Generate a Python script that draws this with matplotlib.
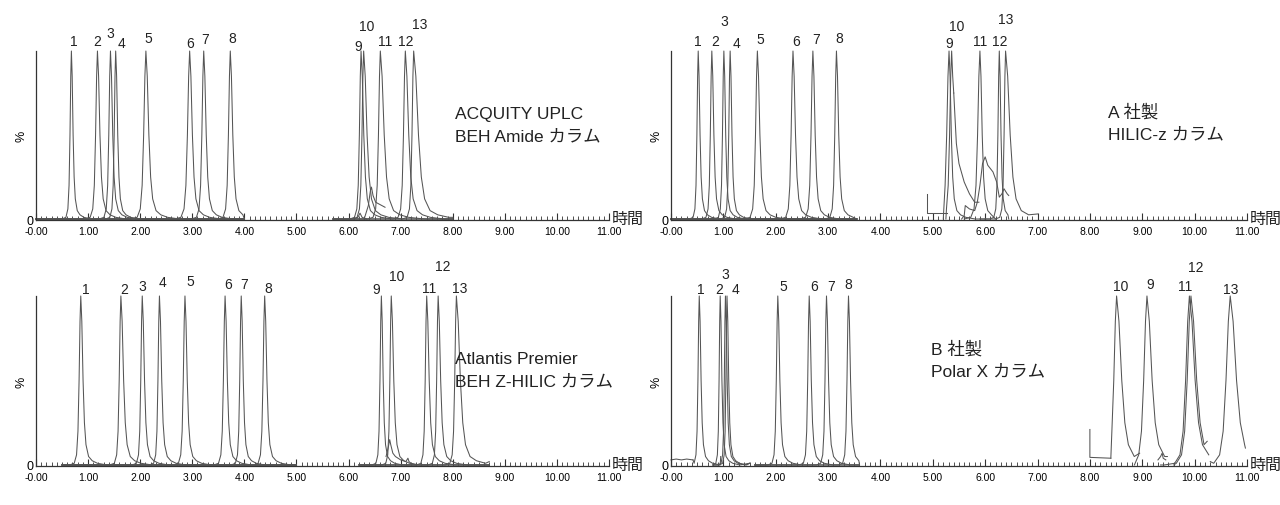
import matplotlib
matplotlib.use("Agg")
import matplotlib.pyplot as plt
from matplotlib.ticker import MultipleLocator, FixedLocator, FixedFormatter

plt.rcParams['font.family'] = ['Liberation Sans', 'Noto Sans CJK JP']

# --- data --------------------------------------------------------------
# generic peak profile (offset in min, relative height) taken from a typical peak
SHAPE_DX = [-0.12, -0.07, -0.045, -0.03, -0.018, -0.008, 0.0, 0.01, 0.022, 0.035, 0.05, 0.075, 0.11, 0.16, 0.25]
SHAPE_Y = [0.0, 0.01, 0.06, 0.2, 0.5, 0.85, 1.0, 0.85, 0.5, 0.25, 0.12, 0.05, 0.025, 0.01, 0.0]

# ACQUITY UPLC BEH Amide
rt_a = [0.68, 1.18, 1.43, 1.53, 2.11, 2.95, 3.22, 3.73, 6.24, 6.29, 6.61, 7.09, 7.25]
front_a = [1.5, 2.0, 1.8, 1.6, 2.4, 2.4, 2.0, 2.0, 1.8, 1.8, 2.0, 2.0, 1.8]
tail_a = [1.5, 2.2, 2.0, 1.8, 2.6, 2.4, 2.2, 2.2, 2.4, 3.0, 3.4, 3.0, 4.2]
lo_a = [0.0, 0.0, 0.0, 0.0, 0.0, 0.0, 0.0, 0.0, 5.7, 5.7, 5.7, 5.7, 5.7]
hi_a = [4.0, 4.0, 4.0, 4.0, 4.0, 4.0, 4.0, 4.0, 8.0, 8.0, 8.0, 8.0, 8.0]
start_a = [0.0] * 13
end_a = [0.0, 0.0, 0.0, 0.0, 0.0, 0.0, 0.0, 0.0, 0.0, 0.0, 0.0, 0.0, 0.01]
extra_x_a = [[6.30, 6.38, 6.42, 6.44, 6.47, 6.52, 6.58, 6.64, 6.70],
             [6.10, 6.18, 6.22, 6.26, 6.35]]
extra_y_a = [[0.0, 0.08, 0.17, 0.19, 0.14, 0.10, 0.09, 0.08, 0.07],
             [0.0, 0.01, 0.035, 0.01, 0.0]]

# A社製 HILIC-z
rt_b = [0.52, 0.78, 1.01, 1.13, 1.65, 2.33, 2.71, 3.16, 5.31, 5.36, 5.90, 6.27, 6.39]
front_b = [1.4, 1.6, 1.5, 1.5, 2.0, 2.0, 2.0, 1.8, 2.5, 2.2, 2.5, 1.5, 1.6]
tail_b = [1.6, 1.8, 1.6, 1.6, 2.2, 2.2, 2.0, 2.0, 2.0, 2.0, 2.0, 1.5, 4.0]
lo_b = [0.0, 0.0, 0.0, 0.0, 0.0, 0.0, 0.0, 0.0, 5.2, 5.25, 5.6, 5.9, 6.0]
hi_b = [3.55, 3.55, 3.55, 3.55, 3.55, 3.55, 3.55, 3.55, 6.0, 5.40, 6.2, 6.45, 7.0]
start_b = [0.0] * 13
end_b = [0.0, 0.0, 0.0, 0.0, 0.0, 0.0, 0.0, 0.0, 0.0, 0.75, 0.0, 0.0, 0.03]
extra_x_b = [[4.88, 4.88, 5.27],
             [5.40, 5.45, 5.50, 5.60, 5.70, 5.80, 5.88],
             [5.55, 5.60, 5.62, 5.70, 5.80, 5.85, 5.90, 5.95, 6.00, 6.05, 6.15, 6.22, 6.27, 6.32, 6.36, 6.42, 6.45]]
extra_y_b = [[0.15, 0.035, 0.035],
             [0.75, 0.45, 0.33, 0.22, 0.15, 0.10, 0.10],
             [0.0, 0.02, 0.08, 0.06, 0.05, 0.10, 0.20, 0.33, 0.37, 0.32, 0.28, 0.22, 0.13, 0.15, 0.18, 0.15, 0.14]]

# Atlantis Premier BEH Z-HILIC
rt_c = [0.86, 1.63, 2.04, 2.37, 2.86, 3.63, 3.94, 4.39, 6.63, 6.82, 7.50, 7.72, 8.07]
front_c = [1.8, 1.8, 1.6, 1.6, 1.8, 1.8, 1.6, 1.8, 1.5, 1.5, 1.6, 1.6, 1.8]
tail_c = [2.0, 2.4, 2.0, 2.0, 2.0, 2.0, 1.8, 2.0, 1.6, 2.2, 2.2, 2.2, 3.5]
lo_c = [0.5, 0.5, 0.5, 0.5, 0.5, 0.5, 0.5, 0.5, 6.2, 6.2, 6.2, 6.2, 6.2]
hi_c = [5.0, 5.0, 5.0, 5.0, 5.0, 5.0, 5.0, 5.0, 8.7, 8.7, 8.7, 8.7, 8.7]
start_c = [0.0] * 13
end_c = [0.0, 0.0, 0.0, 0.0, 0.0, 0.0, 0.0, 0.0, 0.0, 0.0, 0.0, 0.0, 0.02]
extra_x_c = [[6.72, 6.76, 6.79, 6.81, 6.85, 6.90, 7.00, 7.10, 7.14, 7.16, 7.20, 7.30]]
extra_y_c = [[0.05, 0.10, 0.15, 0.12, 0.07, 0.05, 0.03, 0.02, 0.04, 0.02, 0.01, 0.0]]

# B社製 Polar X
rt_d = [0.54, 0.94, 1.04, 1.07, 2.04, 2.64, 2.97, 3.39, 9.09, 8.51, 9.90, 9.93, 10.68]
front_d = [1.4, 1.2, 1.2, 1.2, 1.6, 1.6, 1.6, 1.6, 3.5, 3.0, 4.0, 4.0, 4.5]
tail_d = [1.6, 1.5, 1.5, 1.5, 1.8, 1.8, 1.8, 1.8, 4.5, 4.5, 5.0, 5.0, 5.5]
lo_d = [0.42, 0.8, 0.8, 0.8, 1.6, 1.6, 1.6, 1.6, 8.85, 8.40, 9.35, 9.6, 10.3]
hi_d = [0.95, 1.5, 1.5, 1.5, 3.6, 3.6, 3.6, 3.6, 9.48, 8.95, 10.27, 10.24, 10.97]
start_d = [0.03, 0.0, 0.0, 0.0, 0.0, 0.0, 0.0, 0.0, 0.0, 0.04, 0.0, 0.0, 0.02]
end_d = [0.05, 0.01, 0.01, 0.01, 0.0, 0.0, 0.0, 0.0, 0.05, 0.07, 0.06, 0.14, 0.10]
extra_x_d = [[8.0, 8.0, 8.40],
             [9.30, 9.35, 9.38, 9.40, 9.45],
             [0.0, 0.1, 0.2, 0.3, 0.42]]
extra_y_d = [[0.21, 0.045, 0.04],
             [0.03, 0.05, 0.07, 0.04, 0.03],
             [0.03, 0.035, 0.03, 0.035, 0.03]]

col_a = ["ACQUITY UPLC", "BEH Amide カラム"]
col_b = ["A 社製", "HILIC-z カラム"]
col_c = ["Atlantis Premier", "BEH Z-HILIC カラム"]
col_d = ["B 社製", "Polar X カラム"]

peak_names = [str(i) for i in range(1, 14)]
x_ticks = [0, 1, 2, 3, 4, 5, 6, 7, 8, 9, 10, 11]
x_tick_labels = ["-0.00", "1.00", "2.00", "3.00", "4.00", "5.00", "6.00",
                 "7.00", "8.00", "9.00", "10.00", "11.00"]

# label placement (offset from peak, height above axis top)
lab_dx_a = [0.05, 0.0, 0.0, 0.12, 0.04, 0.0, 0.03, 0.03, -0.06, 0.05, 0.1, 0.0, 0.12]
lab_y_a = [1.06, 1.06, 1.11, 1.05, 1.08, 1.05, 1.07, 1.08, 1.03, 1.15, 1.06, 1.06, 1.16]
lab_dx_b = [0.0, 0.06, 0.0, 0.13, 0.06, 0.06, 0.06, 0.05, 0.0, 0.1, 0.0, 0.0, 0.0]
lab_y_b = [1.06, 1.06, 1.18, 1.05, 1.07, 1.06, 1.07, 1.08, 1.05, 1.15, 1.06, 1.06, 1.19]
lab_dx_c = [0.09, 0.06, 0.0, 0.06, 0.1, 0.05, 0.06, 0.06, -0.1, 0.1, 0.04, 0.09, 0.06]
lab_y_c = [1.04, 1.04, 1.06, 1.08, 1.09, 1.07, 1.07, 1.05, 1.04, 1.12, 1.05, 1.18, 1.05]
lab_dx_d = [0.03, -0.02, 0.0, 0.16, 0.1, 0.09, 0.09, 0.0, 0.06, 0.07, -0.08, 0.1, 0.0]
lab_y_d = [1.04, 1.04, 1.13, 1.04, 1.06, 1.06, 1.06, 1.07, 1.07, 1.06, 1.06, 1.17, 1.04]

TRACE_COLOR = '#555555'


def peak_trace(rt, front, tail, lo, hi, start, end):
    """Vertices of one channel trace: baseline, peak profile, cut at the window."""
    xs = [lo]
    ys = [start]
    for dx, y in zip(SHAPE_DX, SHAPE_Y):
        x = rt + dx * (front if dx < 0 else tail)
        if lo < x < hi:
            xs.append(x)
            ys.append(y)
    xs.append(hi)
    ys.append(end)
    return xs, ys


def draw_panel(ax, rt, front, tail, lo, hi, start, end, extra_x, extra_y,
               lab_dx, lab_y, caption, cap_x, cap_y):
    for i in range(len(rt)):
        xs, ys = peak_trace(rt[i], front[i], tail[i], lo[i], hi[i], start[i], end[i])
        ax.plot(xs, ys, color=TRACE_COLOR, lw=0.75, clip_on=False)
    for ex, ey in zip(extra_x, extra_y):
        ax.plot(ex, ey, color=TRACE_COLOR, lw=0.75, clip_on=False)

    for i, name in enumerate(peak_names):
        ax.text(rt[i] + lab_dx[i], lab_y[i], name, ha='center', va='center',
                fontsize=10, color='#222222')

    ax.text(cap_x, cap_y, caption[0], ha='left', va='center', fontsize=12.5, color='#222222')
    ax.text(cap_x, cap_y - 0.135, caption[1], ha='left', va='center', fontsize=12.5, color='#222222')

    ax.set_xlim(0, 11)
    ax.set_ylim(-0.006, 1.0)
    for s in ['top', 'right']:
        ax.spines[s].set_visible(False)
    for s in ['left', 'bottom']:
        ax.spines[s].set_color('#333333')
        ax.spines[s].set_linewidth(0.9)

    ax.xaxis.set_major_locator(FixedLocator(x_ticks))
    ax.xaxis.set_major_formatter(FixedFormatter(x_tick_labels))
    ax.xaxis.set_minor_locator(MultipleLocator(0.1))
    ax.tick_params(axis='x', which='major', direction='in', length=5, width=0.8,
                   color='#333333', labelsize=7.5, pad=4)
    ax.tick_params(axis='x', which='minor', direction='in', length=3, width=0.6,
                   color='#333333')
    ax.set_yticks([0])
    ax.set_yticklabels(['0'])
    ax.tick_params(axis='y', length=0, labelsize=9, pad=2)

    ax.text(-0.026, 0.5, '%', transform=ax.transAxes, rotation=90,
            ha='center', va='center', fontsize=9)
    ax.text(1.004, 0.01, '時間', transform=ax.transAxes, ha='left', va='center',
            fontsize=11.5, color='#222222')


if __name__ == "__main__":
    fig = plt.figure(figsize=(12.8, 5.06), dpi=100)
    ax_a = fig.add_axes([0.0281, 0.5632, 0.4477, 0.334])
    ax_b = fig.add_axes([0.5242, 0.5632, 0.450, 0.334])
    ax_c = fig.add_axes([0.0281, 0.0771, 0.4477, 0.336])
    ax_d = fig.add_axes([0.5242, 0.0771, 0.450, 0.336])

    draw_panel(ax_a, rt_a, front_a, tail_a, lo_a, hi_a, start_a, end_a,
               extra_x_a, extra_y_a, lab_dx_a, lab_y_a, col_a, 8.05, 0.63)
    draw_panel(ax_b, rt_b, front_b, tail_b, lo_b, hi_b, start_b, end_b,
               extra_x_b, extra_y_b, lab_dx_b, lab_y_b, col_b, 8.35, 0.64)
    draw_panel(ax_c, rt_c, front_c, tail_c, lo_c, hi_c, start_c, end_c,
               extra_x_c, extra_y_c, lab_dx_c, lab_y_c, col_c, 8.05, 0.63)
    draw_panel(ax_d, rt_d, front_d, tail_d, lo_d, hi_d, start_d, end_d,
               extra_x_d, extra_y_d, lab_dx_d, lab_y_d, col_d, 4.97, 0.69)

    fig.savefig("out.png", dpi=100, facecolor='white')
